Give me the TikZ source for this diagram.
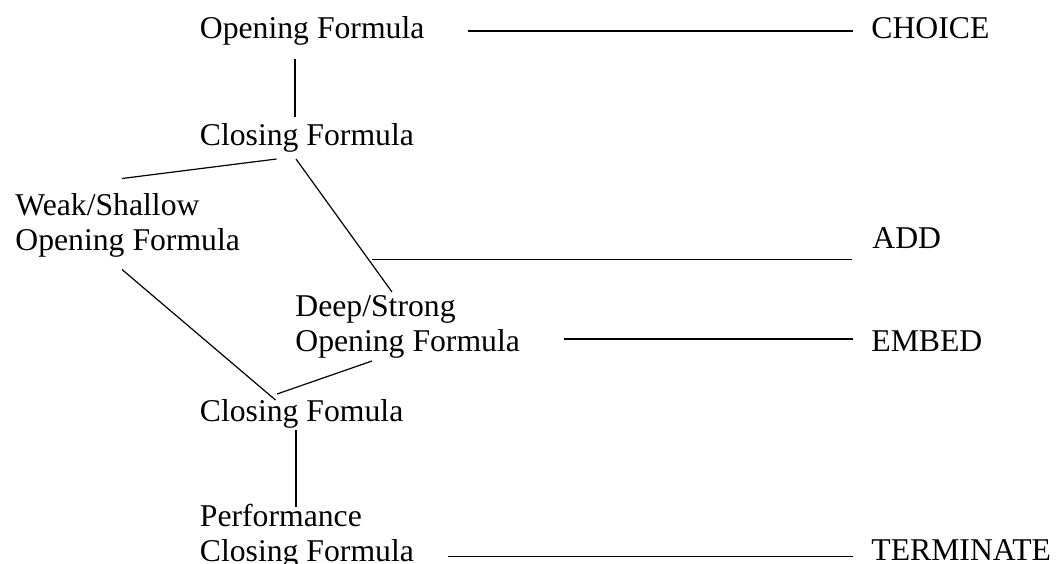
\documentclass[tikz,border=0pt]{standalone}
\usepackage{fontspec}
\setmainfont{Liberation Serif}
\usetikzlibrary{calc}

\begin{document}
\begin{tikzpicture}[x=0.5pt,y=-0.5pt,
    phrase/.style={inner sep=0pt, anchor=base west, align=left,
      font=\fontsize{15.85}{17.5}\selectfont},
    link/.style={line width=0.6pt}]
  \useasboundingbox (0,0) rectangle (1058,563);

  % Formula nodes (two-line ones sit on their last line)
  \node[phrase] (open1) at (199.5,38.9) {Opening Formula};
  \node[phrase] (close1) at (199.5,145) {Closing Formula};
  \node[phrase] (weak) at (15,250) {Weak/Shallow\\Opening Formula};
  \node[phrase] (deep) at (295,351.7) {Deep/Strong\\Opening Formula};
  \node[phrase] (close2) at (199.5,421.3) {Closing Fomula};
  \node[phrase] (perf) at (199.5,561.3) {Performance\\Closing Formula};

  % Operations
  \node[phrase] (choice) at (871,38.7) {CHOICE};
  \node[phrase] (add) at (872,248.5) {ADD};
  \node[phrase] (embed) at (871,351.7) {EMBED};
  \node[phrase] (term) at (871,560) {TERMINATE};

  % Tree
  \draw[link] ($(open1.base west)+(95.5,20.1)$) -- ($(close1.base west)+(95.5,-28.4)$);
  \draw[link] ($(close1.base west)+(77,14)$) -- ($(weak.base west)+(107,-71.5)$);
  \draw[link] ($(close1.base west)+(96.5,14)$) -- ($(deep.base west)+(97,-59.7)$);
  \draw[link] ($(weak.base west)+(107,19.5)$) -- ($(close2.base west)+(76,-21.3)$);
  \draw[link] ($(deep.base west)+(77,9.3)$) -- ($(close2.base west)+(77.5,-27.3)$);
  \draw[link] ($(close2.base west)+(96.5,8.7)$) -- ($(perf.base west)+(96.5,-54.3)$);

  % Operation lines
  \coordinate (addfoot) at ($(add.base west)+(-500,11.1)$);
  \draw[link] ($(open1.base west)+(268.5,-7.9)$) -- ($(choice.base west)+(-18.5,-7.7)$);
  \draw[link] (addfoot) -- ($(add.base west)+(-20,11.1)$);
  \draw[link] ($(deep.base west)+(268.7,-12.7)$) -- ($(embed.base west)+(-18.4,-12.7)$);
  \draw[link] ($(perf.base west)+(248.5,-4.8)$) -- ($(term.base west)+(-18.4,-3.5)$);
\end{tikzpicture}
\end{document}
